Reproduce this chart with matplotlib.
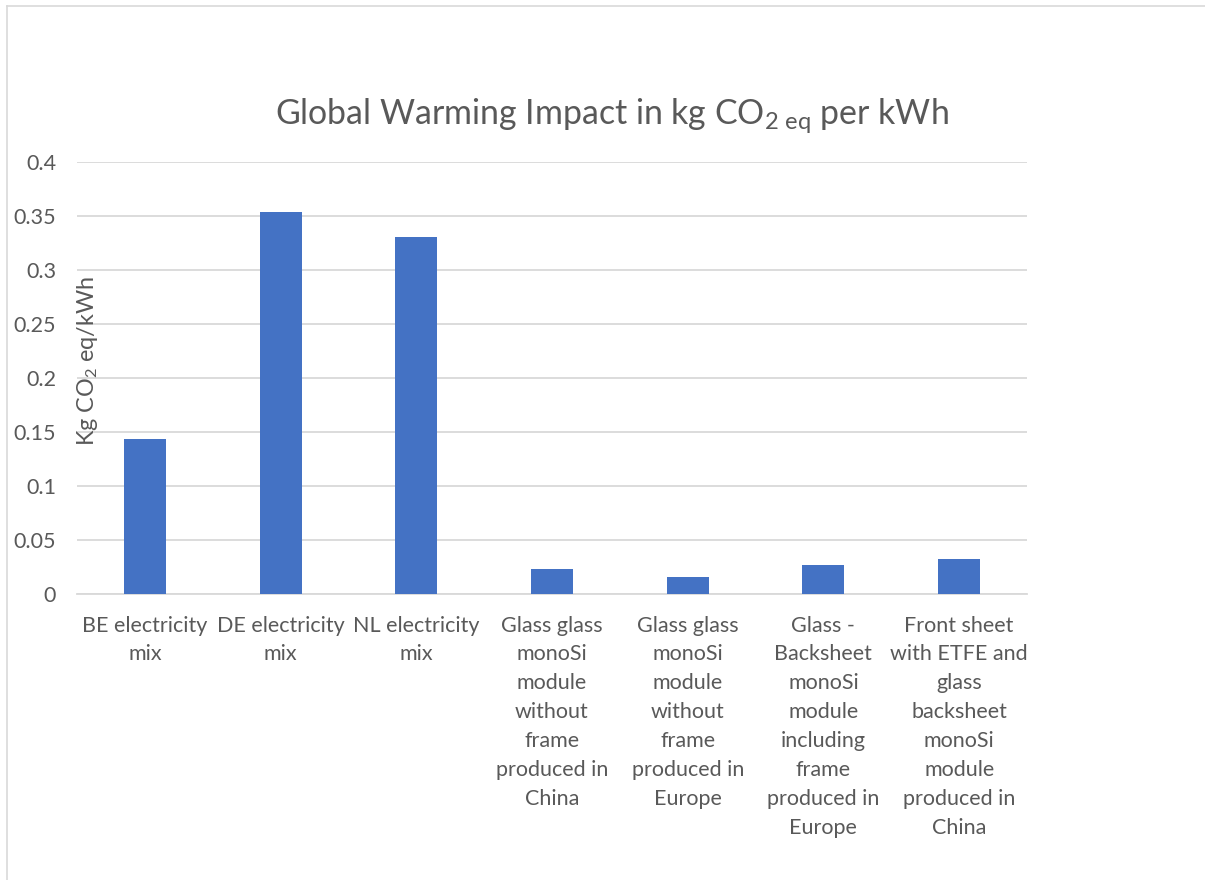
import matplotlib
matplotlib.use("Agg")
import matplotlib.pyplot as plt
from matplotlib.lines import Line2D

categories = [
    "BE electricity\nmix",
    "DE electricity\nmix",
    "NL electricity\nmix",
    "Glass glass\nmonoSi\nmodule\nwithout\nframe\nproduced in\nChina",
    "Glass glass\nmonoSi\nmodule\nwithout\nframe\nproduced in\nEurope",
    "Glass -\nBacksheet\nmonoSi\nmodule\nincluding\nframe\nproduced in\nEurope",
    "Front sheet\nwith ETFE and\nglass\nbacksheet\nmonoSi\nmodule\nproduced in\nChina",
]
values = [0.1435, 0.354, 0.331, 0.023, 0.0157, 0.027, 0.0324]
yticks = [0, 0.05, 0.1, 0.15, 0.2, 0.25, 0.3, 0.35, 0.4]
ytick_labels = ["0", "0.05", "0.1", "0.15", "0.2", "0.25", "0.3", "0.35", "0.4"]

FONT = "Lato"
TXT = "#595959"
plt.rcParams["font.family"] = [FONT, "DejaVu Sans"]
plt.rcParams["mathtext.fontset"] = "custom"
plt.rcParams["mathtext.rm"] = FONT
plt.rcParams["mathtext.it"] = FONT
plt.rcParams["mathtext.bf"] = FONT

W, H = 1205, 880
fig = plt.figure(figsize=(W / 100, H / 100), dpi=100)
ax = fig.add_axes([77 / W, 1 - 594 / H, (1027 - 77) / W, (594 - 162) / H])

x = list(range(len(categories)))
ax.bar(x, values, width=0.31, color="#4472C4", zorder=3)
ax.set_xlim(-0.5, len(categories) - 0.5)
ax.set_ylim(0, 0.4)
ax.set_yticks(yticks)
ax.set_yticklabels(ytick_labels)
ax.set_xticks(x)
ax.set_xticklabels(categories, linespacing=1.56)
ax.grid(axis="y", color="#D9D9D9", linewidth=1.3, zorder=0)
for s in ["top", "right", "left"]:
    ax.spines[s].set_visible(False)
ax.spines["bottom"].set_color("#D9D9D9")
ax.spines["bottom"].set_linewidth(1.3)
ax.tick_params(axis="both", length=0, labelsize=15.5, colors=TXT)
ax.tick_params(axis="x", pad=15.5)
ax.tick_params(axis="y", pad=15)

fig.text(612 / W, 1 - 116 / H, r"Global Warming Impact in kg CO$_{2\ \mathrm{eq}}$ per kWh",
         ha="center", va="center", fontsize=24.4, color=TXT)
fig.text(88 / W, 1 - 361 / H, r"Kg CO$_2$ eq/kWh", rotation=90,
         ha="center", va="center", fontsize=16.8, color=TXT)

fig.add_artist(Line2D([7.5 / W, 7.5 / W], [0, 1 - 6.5 / H], transform=fig.transFigure, color="#D9D9D9", lw=1.2))
fig.add_artist(Line2D([7.5 / W, 1], [1 - 6.5 / H, 1 - 6.5 / H], transform=fig.transFigure, color="#D9D9D9", lw=1.2))

fig.savefig("out.png", dpi=100)
